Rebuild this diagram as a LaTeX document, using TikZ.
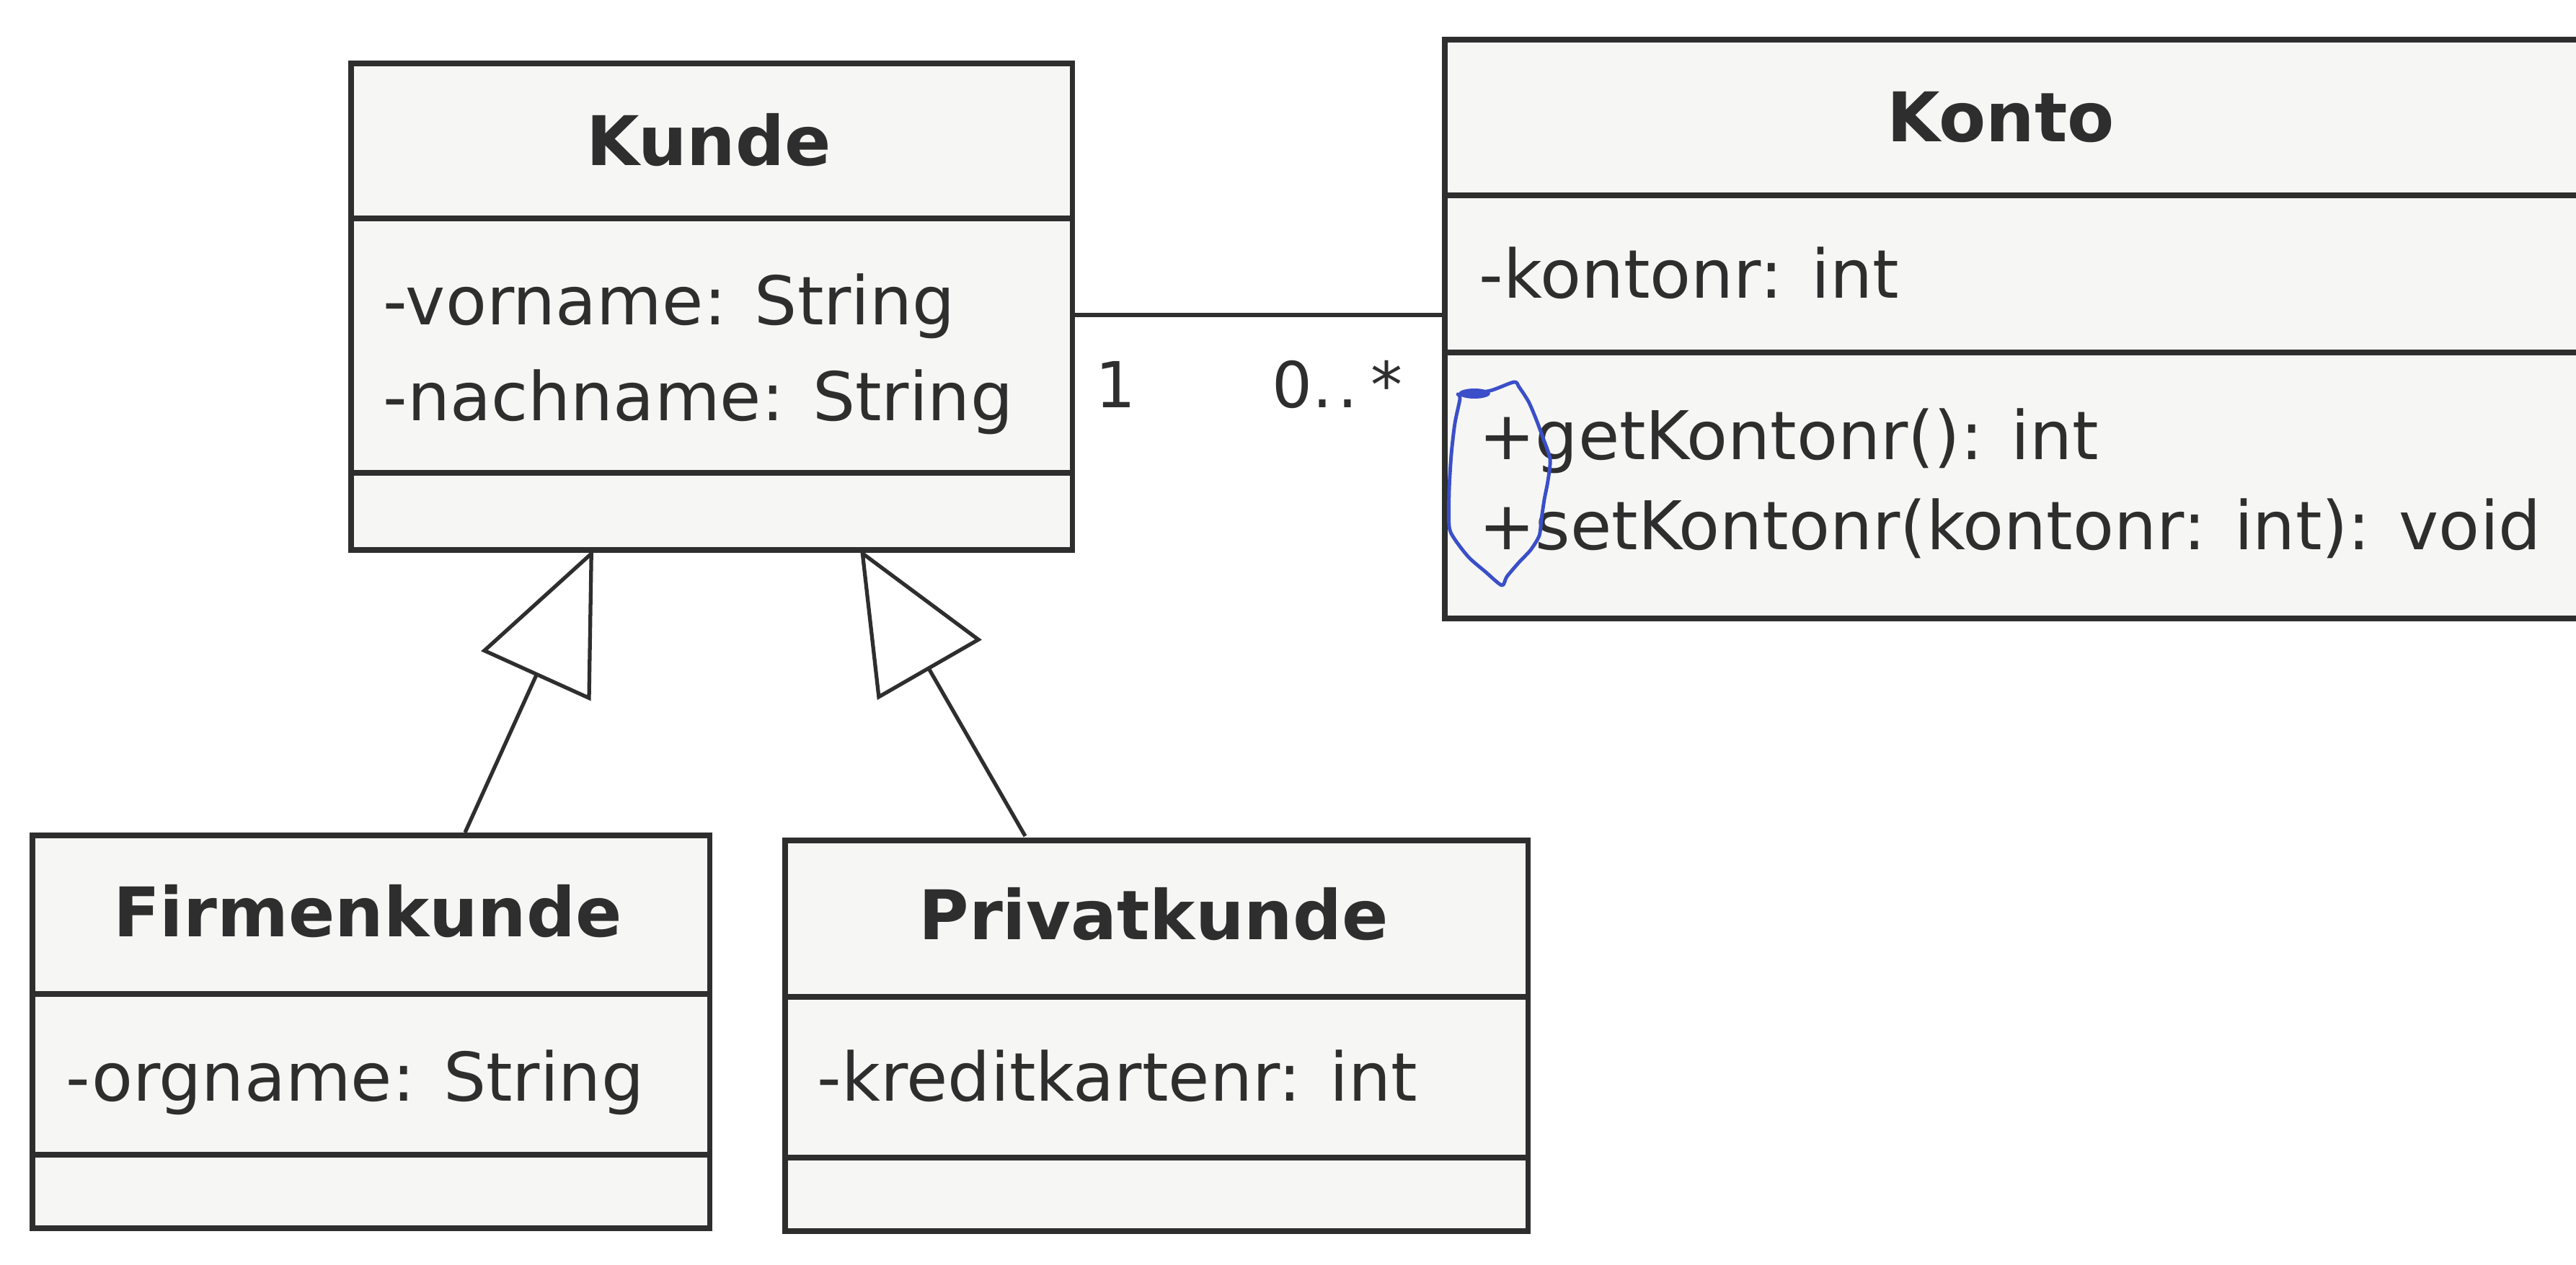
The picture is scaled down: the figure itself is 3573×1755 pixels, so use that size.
\documentclass[tikz,border=0pt]{standalone}
\usepackage{fontspec}
\setmainfont{DejaVu Sans}
\usetikzlibrary{arrows.meta}
\definecolor{ink}{HTML}{2E2E2E}
\definecolor{pen}{HTML}{3A4FC8}
\definecolor{boxfill}{HTML}{F6F6F4}
\begin{document}
\begin{tikzpicture}[x=0.01cm,y=-0.01cm,
  classbox/.style={draw=ink, line width=2.2pt, fill=boxfill, inner sep=0pt, anchor=north west},
  sepline/.style={draw=ink, line width=2.2pt},
  cname/.style={font=\fontsize{27}{32}\selectfont\bfseries, text=ink, anchor=base, inner sep=0pt},
  attr/.style={font=\fontsize{26.5}{32}\selectfont, text=ink, anchor=base west, inner sep=0pt},
  mult/.style={font=\fontsize{25}{30}\selectfont, text=ink, anchor=base, inner sep=0pt},
  assoc/.style={draw=ink, line width=1.5pt},
  gen/.style={draw=ink, line width=1.5pt, -{Triangle[open, length=1.93cm, width=1.66cm, line width=1.5pt]}},
]
\useasboundingbox (0,0) rectangle (3573,1755);
\clip (0,0) rectangle (3573,1755);
\fill[white] (0,0) rectangle (3573,1755);

% class boxes
\node[classbox, minimum width=10cm, minimum height=6.75cm] (kunde) at (483,84) {};
\node[classbox, minimum width=17cm, minimum height=8.03cm] (konto) at (2000,51) {};
\node[classbox, minimum width=9.39cm, minimum height=5.45cm] (firmen) at (41,1155) {};
\node[classbox, minimum width=10.30cm, minimum height=5.42cm] (privat) at (1085,1162) {};

% compartments
\draw[sepline] (kunde.west |- 0,303) -- (kunde.east |- 0,303);
\draw[sepline] (kunde.west |- 0,656) -- (kunde.east |- 0,656);
\draw[sepline] (konto.west |- 0,271) -- (konto.east |- 0,271);
\draw[sepline] (konto.west |- 0,489) -- (konto.east |- 0,489);
\draw[sepline] (firmen.west |- 0,1379) -- (firmen.east |- 0,1379);
\draw[sepline] (firmen.west |- 0,1602) -- (firmen.east |- 0,1602);
\draw[sepline] (privat.west |- 0,1383) -- (privat.east |- 0,1383);
\draw[sepline] (privat.west |- 0,1606) -- (privat.east |- 0,1606);

% texts
\node[cname] (kundeT) at (983,230) {Kunde};
\node[attr] (kundeA1) at (531,451) {-vorname: String};
\node[attr] (kundeA2) at (531,583) {-nachname: String};

\node[cname] (kontoT) at (2775,197) {Konto};
\node[attr] (kontoA1) at (2051,413) {-kontonr: int};
\node[attr] (kontoM1) at (2051,637) {+getKontonr(): int};
\node[attr] (kontoM2) at (2051,762) {+setKontonr(kontonr: int): void};

\node[cname] (firmenT) at (510,1299) {Firmenkunde};
\node[attr] (firmenA1) at (91,1527) {-orgname: String};

\node[cname] (privatT) at (1600,1303) {Privatkunde};
\node[attr] (privatA1) at (1133,1527) {-kreditkartenr: int};

% association
\coordinate (as1) at (kunde.east |- 0,437);
\draw[assoc] (as1) -- (as1 -| konto.west);
\node[mult] (m1) at (1547,565) {1};
\node[mult] (m2) at (1855,565) {0.\kern2pt.\kern5pt*};

% generalizations
\coordinate (g1s) at (645,1155);
\coordinate (g1e) at (823,762);
\coordinate (g2s) at (1422,1160);
\coordinate (g2e) at (1193,762);
\draw[gen] (g1s) -- (g1e);
\draw[gen] (g2s) -- (g2e);

% handwritten pen mark
\draw[pen, line width=1.4pt, line join=round, line cap=round] plot[smooth, tension=0.45] coordinates {
 (2030,547) (2067,542) (2100,530) (2107,537) (2120,557) (2130,580) (2140,607)
 (2150,637) (2147,667) (2142,693) (2138,720) (2135,743) (2123,763) (2107,780)
 (2090,800) (2083,812) (2060,793) (2037,773) (2017,747) (2010,730) (2010,680)
 (2013,630) (2018,587) (2025,553) (2022,547)};
\fill[pen] (2045,546) ellipse (22 and 7);
\end{tikzpicture}
\end{document}
